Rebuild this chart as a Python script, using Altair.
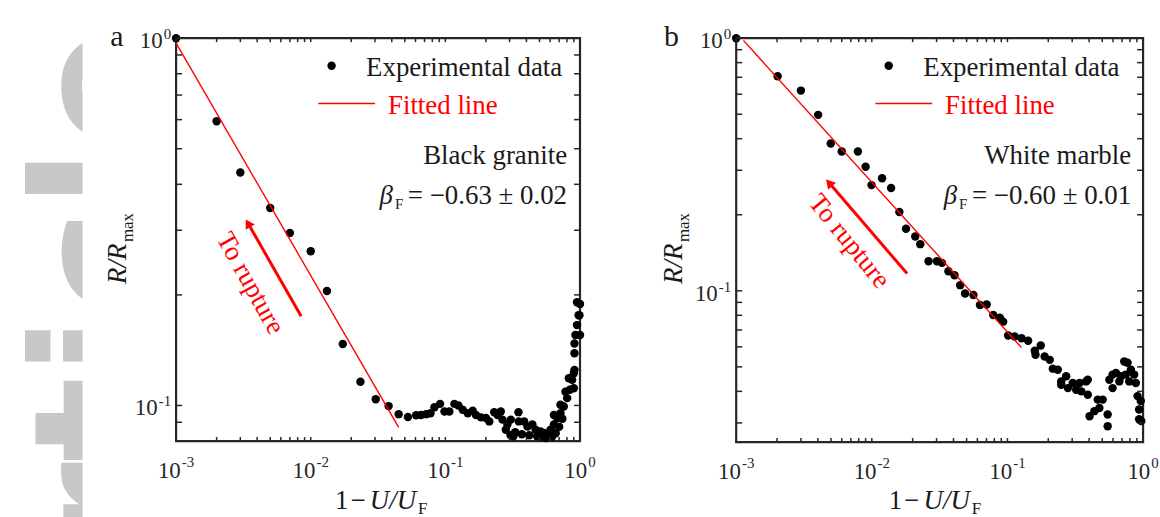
import altair as alt
import pandas as pd

FONT = "Liberation Serif"
INK = "#1a1a1a"
AXIS_INK = "#262626"
RED = "#ff0000"
GREY = "#c8c8c8"

# ---------------- panel a : black granite ----------------
a_x = [0.001, 0.002, 0.003, 0.005, 0.007, 0.010, 0.0132, 0.0173, 0.0234, 0.0304,
       0.0379, 0.045, 0.0527, 0.0607, 0.066, 0.072, 0.0776, 0.083, 0.0914, 0.0985,
       0.107, 0.1167, 0.125, 0.1345, 0.1466, 0.1596, 0.1687, 0.1837, 0.200, 0.212,
       0.2307, 0.2438, 0.258, 0.2656, 0.281, 0.289, 0.305, 0.306, 0.320, 0.33,
       0.349, 0.351, 0.37, 0.385, 0.407, 0.42, 0.443, 0.468, 0.48, 0.509,
       0.52, 0.540, 0.56, 0.571, 0.604, 0.62, 0.640, 0.640, 0.66, 0.677,
       0.70, 0.716, 0.716, 0.74, 0.758, 0.780, 0.803, 0.826, 0.840, 0.874,
       0.900, 0.900, 0.910, 0.910, 0.910, 0.925, 0.950, 0.950, 0.977, 0.99,
       1.0, 1.0]
a_y = [1.0, 0.594, 0.431, 0.345, 0.295, 0.263, 0.205, 0.147, 0.116, 0.104,
       0.0996, 0.0947, 0.0930, 0.0940, 0.0942, 0.0947, 0.0952, 0.0989, 0.101, 0.0963,
       0.0963, 0.101, 0.100, 0.0973, 0.0952, 0.0967, 0.0942, 0.0928, 0.0925, 0.0905,
       0.0959, 0.0942, 0.0963, 0.0915, 0.0859, 0.0887, 0.083, 0.0915, 0.0824, 0.0845,
       0.0959, 0.0905, 0.0835, 0.0905, 0.0877, 0.083, 0.0887, 0.0859, 0.0825, 0.085,
       0.082, 0.0842, 0.0815, 0.0833, 0.0859, 0.0822, 0.0887, 0.0942, 0.084, 0.0925,
       0.0875, 0.0952, 0.1004, 0.092, 0.0994, 0.109, 0.1047, 0.1186, 0.1103, 0.1174,
       0.1224, 0.1114, 0.125, 0.1387, 0.1475, 0.1555, 0.1655, 0.191, 0.176, 0.176,
       0.189, 0.1555]
a_fit_x = [0.001, 0.045]
a_fit_y = [0.969, 0.0872]

# ---------------- panel b : white marble ----------------
b_x = [0.001, 0.00202, 0.0030, 0.00402, 0.00498, 0.0060, 0.00789, 0.0090, 0.00995, 0.0119,
       0.01387, 0.01596, 0.01787, 0.0209, 0.02276, 0.0262, 0.0302, 0.0329, 0.0367, 0.0407,
       0.0448, 0.0487, 0.0561, 0.0627, 0.0703, 0.0786, 0.0879, 0.093, 0.1012, 0.113,
       0.127, 0.142, 0.159, 0.161, 0.176, 0.188, 0.205, 0.216, 0.235, 0.249,
       0.249, 0.271, 0.279, 0.303, 0.321, 0.34, 0.35, 0.38, 0.391, 0.391,
       0.403, 0.4375, 0.463, 0.476, 0.504, 0.548, 0.548, 0.564, 0.596, 0.596,
       0.631, 0.668, 0.687, 0.726, 0.746, 0.768, 0.79, 0.813, 0.859, 0.884,
       0.91, 0.935, 0.935, 0.962, 0.97]
b_y = [1.0, 0.707, 0.620, 0.497, 0.383, 0.356, 0.356, 0.310, 0.262, 0.279,
       0.255, 0.205, 0.176, 0.164, 0.153, 0.131, 0.131, 0.129, 0.1196, 0.1153,
       0.1053, 0.0976, 0.0962, 0.0879, 0.0883, 0.0802, 0.0783, 0.0755, 0.0665, 0.0659,
       0.0649, 0.0634, 0.0579, 0.0558, 0.0607, 0.055, 0.0533, 0.0492, 0.0487, 0.0438,
       0.0425, 0.0459, 0.0412, 0.0432, 0.0406, 0.0432, 0.040, 0.0438, 0.0445, 0.0388,
       0.0319, 0.0334, 0.0371, 0.0344, 0.0371, 0.0324, 0.0291, 0.0445, 0.0466, 0.0412,
       0.0473, 0.0438, 0.0459, 0.0525, 0.0466, 0.0519, 0.0438, 0.0487, 0.0466, 0.0432,
       0.0383, 0.0339, 0.031, 0.0366, 0.0305]
b_fit_x = [0.00113, 0.1267]
b_fit_y = [0.98, 0.0597]

# ---------------- ticks and tick labels ----------------
x_major = [0.001, 0.01, 0.1, 1]
x_exp = ["-3", "-2", "-1", "0"]
y_major = [0.1, 1]
y_exp = ["-1", "0"]
x_minor = [round(m * 10 ** e, 6) for e in (-3, -2, -1) for m in range(2, 10)]
a_y_minor = [0.08, 0.09] + [m / 10 for m in range(2, 10)]
b_y_minor = [m / 100 for m in range(3, 10)] + [m / 10 for m in range(2, 10)]

# ---------------- annotations (data coordinates) ----------------
a_arrow = dict(x1=0.00849, y1=0.175, x2=0.00342, y2=0.3133, hx=0.00342, hy=0.3133, ang=330)
a_arrow_text = dict(x=0.00355, y=0.215, ang=61)
b_arrow = dict(x1=0.0182, y1=0.117, x2=0.00484, y2=0.2675, hx=0.00484, hy=0.2675, ang=319)
b_arrow_text = dict(x=0.0068, y=0.157, ang=51)

LAB = 23      # tick label size
SUP = 15      # superscript size
DOT = 72      # marker area
ONE = pd.DataFrame({"k": [0]})


def sup_w(e):
    return SUP * (0.333 + 0.5) if e.startswith("-") else SUP * 0.5


def txt(s, x, y, size=27, color=INK, style="normal", align="left",
        baseline="alphabetic", angle=0, font=FONT):
    return alt.Chart(ONE).mark_text(
        text=s, font=font, fontSize=size, color=color, fontStyle=style,
        align=align, baseline=baseline, angle=angle
    ).encode(x=alt.value(x), y=alt.value(y))


def panel(px, py, fx, fy, ydom, yminor, w, h, letter, material, beta,
          arrow, arrow_text, leg, letter_x, ytitle_x, xtitle_x, anchor=False):
    xs = alt.Scale(type="log", domain=[0.001, 1], nice=False)
    ys = alt.Scale(type="log", domain=ydom, nice=False)

    def X(f):
        return alt.X(f, scale=xs, axis=None)

    def Y(f):
        return alt.Y(f, scale=ys, axis=None)

    layers = []
    if anchor:
        layers.append(alt.Chart(ONE).mark_rule(strokeOpacity=0).encode(
            x=alt.value(0), y=alt.value(-35), y2=alt.value(0)))

    pts = pd.DataFrame({"x": px, "y": py})
    layers.append(alt.Chart(pts).mark_circle(size=DOT, color="black", opacity=1).encode(
        x=X("x:Q"), y=Y("y:Q")))

    layers.append(alt.Chart(pd.DataFrame({"x": fx, "y": fy})).mark_line(
        color=RED, strokeWidth=1.4).encode(x=X("x:Q"), y=Y("y:Q")))

    # inward ticks on all four sides
    xt = pd.DataFrame({"x": x_major + x_minor})
    yt = pd.DataFrame({"y": y_major + yminor})
    for y0, y1 in ((h, h - 4), (0, 4)):
        layers.append(alt.Chart(xt).mark_rule(color=AXIS_INK, strokeWidth=1.5).encode(
            x=X("x:Q"), y=alt.value(y0), y2=alt.value(y1)))
    for x0, x1 in ((0, 6), (w, w - 6)):
        layers.append(alt.Chart(yt).mark_rule(color=AXIS_INK, strokeWidth=1.5).encode(
            y=Y("y:Q"), x=alt.value(x0), x2=alt.value(x1)))

    # tick labels 10^n (base + superscript)
    for v, e in zip(x_major, x_exp):
        sw = sup_w(e)
        left = -(LAB + 1 + sw) / 2
        d = pd.DataFrame({"x": [v]})
        layers.append(alt.Chart(d).mark_text(
            text="10", font=FONT, fontSize=LAB, color=AXIS_INK, align="left",
            baseline="alphabetic", dx=left).encode(x=X("x:Q"), y=alt.value(h + 37)))
        layers.append(alt.Chart(d).mark_text(
            text=e, font=FONT, fontSize=SUP, color=AXIS_INK, align="left",
            baseline="alphabetic", dx=left + LAB + 1).encode(x=X("x:Q"), y=alt.value(h + 26)))
    for v, e in zip(y_major, y_exp):
        sw = sup_w(e)
        d = pd.DataFrame({"y": [v]})
        layers.append(alt.Chart(d).mark_text(
            text="10", font=FONT, fontSize=LAB, color=AXIS_INK, align="right",
            baseline="alphabetic", dy=10).encode(x=alt.value(-6 - sw), y=Y("y:Q")))
        layers.append(alt.Chart(d).mark_text(
            text=e, font=FONT, fontSize=SUP, color=AXIS_INK, align="right",
            baseline="alphabetic", dy=1).encode(x=alt.value(-5), y=Y("y:Q")))

    # arrow "To rupture"
    adf = pd.DataFrame({"x": [arrow["x1"]], "y": [arrow["y1"]],
                        "x2": [arrow["x2"]], "y2": [arrow["y2"]]})
    layers.append(alt.Chart(adf).mark_rule(color=RED, strokeWidth=3).encode(
        x=X("x:Q"), y=Y("y:Q"), x2="x2:Q", y2="y2:Q"))
    hdf = pd.DataFrame({"x": [arrow["hx"]], "y": [arrow["hy"]]})
    layers.append(alt.Chart(hdf).mark_point(
        shape="triangle-up", filled=True, size=110, color=RED, opacity=1,
        angle=arrow["ang"]).encode(x=X("x:Q"), y=Y("y:Q")))
    tdf = pd.DataFrame({"x": [arrow_text["x"]], "y": [arrow_text["y"]]})
    layers.append(alt.Chart(tdf).mark_text(
        text="To rupture", font=FONT, fontSize=27, color=RED, align="center",
        baseline="middle", angle=arrow_text["ang"]).encode(x=X("x:Q"), y=Y("y:Q")))

    # legend block
    dot_x, txt_x, line_x1, line_x2, fit_txt_x, right_x, beta_x = leg
    layers.append(alt.Chart(ONE).mark_circle(size=DOT, color="black", opacity=1).encode(
        x=alt.value(dot_x), y=alt.value(27.7)))
    layers.append(txt("Experimental data", txt_x, 37.7))
    layers.append(alt.Chart(ONE).mark_rule(color=RED, strokeWidth=1.6).encode(
        x=alt.value(line_x1), x2=alt.value(line_x2), y=alt.value(65.7)))
    layers.append(txt("Fitted line", fit_txt_x, 76.7, color=RED))
    layers.append(txt(material, right_x, 126.7, align="right"))
    layers.append(txt(beta, right_x, 166.7, align="right"))
    layers.append(txt("β", beta_x, 166.7, style="italic", align="right"))
    layers.append(txt("F", beta_x + 2, 171.7, size=15))

    # panel letter
    layers.append(txt(letter, letter_x, 8, size=30, align="center"))

    # y title  R/R_max
    layers.append(txt("R/R", ytitle_x, 247, style="italic", angle=270))
    layers.append(txt("max", ytitle_x + 7, 205, size=17, angle=270))

    # x title  1 − U/U_F
    tb = 473
    layers.append(txt("1", xtitle_x, tb))
    layers.append(txt("−", xtitle_x + 15.5, tb))
    layers.append(txt("U/U", xtitle_x + 35, tb, style="italic"))
    layers.append(txt("F", xtitle_x + 83.5, tb + 5, size=17))

    return alt.layer(*layers).properties(width=w, height=h)


pa = panel(a_x, a_y, a_fit_x, a_fit_y, [0.08, 1], a_y_minor, 406, 405, "a",
           "Black granite", "= −0.63 ± 0.02", a_arrow, a_arrow_text,
           (156.3, 191, 143, 200, 213, 393, 218), -59.5, -50, 159.7, anchor=True)
pb = panel(b_x, b_y, b_fit_x, b_fit_y, [0.0252, 1], b_y_minor, 409, 406, "b",
           "White marble", "= −0.60 ± 0.01", b_arrow, b_arrow_text,
           (153.3, 188, 140, 197, 210, 397, 222), -65, -54, 153.3)

wm = (alt.Chart(ONE)
      .mark_text(text="article", font="DejaVu Sans", fontWeight="bold", fontSize=180,
                 color=GREY, angle=270, align="right", baseline="alphabetic", clip=True)
      .encode(x=alt.value(162), y=alt.value(-12))
      .properties(width=83, height=482, view=alt.ViewBackground(strokeOpacity=0)))

inner = alt.hconcat(pa, pb, spacing=157, bounds="flush")
chart = (alt.hconcat(wm, inner, spacing=94, bounds="flush")
         .properties(padding={"left": 0, "top": 0, "right": 0, "bottom": 0},
                     background="white")
         .configure_view(stroke=AXIS_INK, strokeWidth=2.2))

chart.save("out.html", embed_options={"renderer": "svg", "actions": False})
